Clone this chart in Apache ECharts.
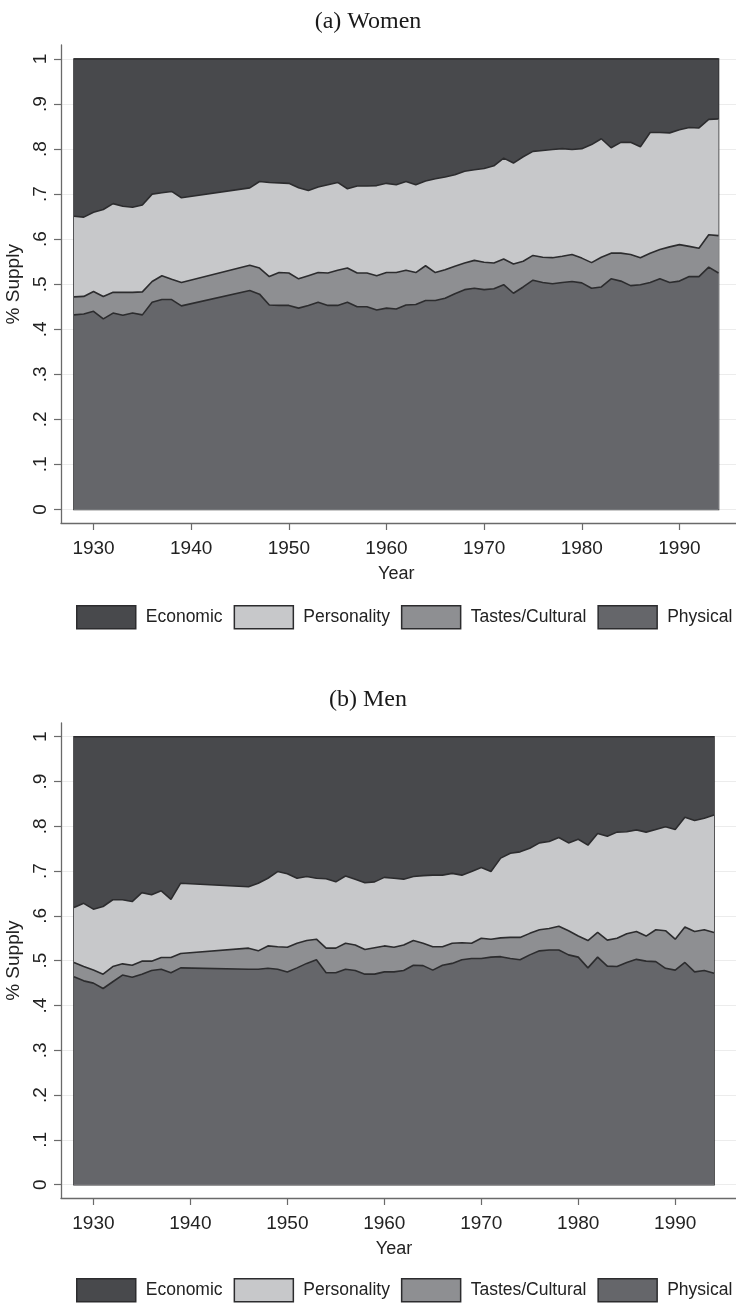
<!DOCTYPE html>
<html><head><meta charset="utf-8">
<script src="https://cdn.jsdelivr.net/npm/echarts@6/dist/echarts.min.js"></script>
<style>html,body{margin:0;padding:0;background:#fff}#c{width:736px;height:1305px}</style>
</head><body><div id="c"></div>
<script>
// ---------------- data (shares) ----------------
const years = [1928,1929,1930,1931,1932,1933,1934,1935,1936,1937,1938,1939,
  1946,1947,1948,1949,1950,1951,1952,1953,1954,1955,1956,1957,1958,1959,1960,1961,
  1962,1963,1964,1965,1966,1967,1968,1969,1970,1971,1972,1973,1974,1975,1976,1977,
  1978,1979,1980,1981,1982,1983,1984,1985,1986,1987,1988,1989,1990,1991,1992,1993,1994];

const womenPhysical = [.432,.434,.440,.423,.436,.431,.436,.432,.460,.466,.466,.452,
  .486,.478,.454,.453,.453,.447,.453,.460,.453,.453,.460,.450,.450,.443,.447,.445,
  .454,.455,.464,.464,.469,.479,.488,.491,.488,.490,.499,.480,.494,.509,.504,.501,
  .504,.506,.503,.491,.494,.512,.507,.497,.499,.504,.512,.504,.507,.517,.517,.538,.525];
const womenTastes = [.040,.039,.044,.050,.046,.051,.046,.051,.046,.053,.045,.052,
  .056,.058,.063,.073,.072,.065,.066,.066,.072,.078,.076,.075,.075,.076,.079,.081,
  .077,.071,.077,.062,.063,.061,.059,.062,.061,.057,.057,.065,.057,.055,.056,.058,
  .058,.060,.055,.057,.066,.057,.062,.069,.060,.065,.065,.079,.081,.067,.063,.072,.083];
const womenPersonality = [.179,.176,.176,.193,.197,.191,.189,.193,.194,.184,.195,.188,
  .172,.192,.209,.199,.199,.202,.189,.190,.196,.195,.176,.193,.193,.200,.198,.195,
  .197,.195,.188,.208,.206,.203,.204,.201,.208,.216,.224,.224,.232,.231,.237,.240,
  .239,.233,.243,.262,.263,.234,.246,.249,.246,.268,.260,.253,.255,.264,.267,.256,.259];
const womenEconomic = [.349,.351,.340,.334,.321,.327,.329,.324,.300,.297,.294,.308,
  .286,.272,.274,.275,.276,.286,.292,.284,.279,.274,.288,.282,.282,.281,.276,.279,
  .272,.279,.271,.266,.262,.257,.249,.246,.243,.237,.220,.231,.217,.205,.203,.201,
  .199,.201,.199,.190,.177,.197,.185,.185,.195,.163,.163,.164,.157,.152,.153,.134,.133];

const menPhysical = [.464,.455,.450,.438,.453,.468,.463,.470,.478,.481,.473,.484,
  .481,.481,.483,.481,.475,.484,.494,.502,.473,.473,.481,.478,.470,.470,.475,.475,
  .478,.490,.489,.479,.490,.494,.502,.505,.505,.508,.509,.505,.502,.513,.522,.524,
  .524,.513,.508,.484,.508,.488,.487,.496,.503,.499,.498,.483,.479,.496,.475,.478,.472];
const menTastes = [.032,.032,.029,.032,.034,.025,.027,.029,.021,.026,.034,.032,
  .047,.041,.050,.050,.055,.055,.051,.046,.055,.055,.058,.057,.055,.059,.058,.055,
  .057,.055,.050,.052,.041,.045,.038,.034,.045,.040,.042,.047,.050,.048,.047,.048,
  .053,.054,.047,.061,.055,.058,.063,.064,.062,.056,.071,.084,.069,.079,.090,.091,.091];
const menPersonality = [.123,.141,.136,.151,.149,.143,.142,.153,.148,.149,.130,.157,
  .137,.151,.151,.168,.164,.145,.143,.136,.155,.148,.150,.147,.149,.147,.153,.154,
  .147,.143,.151,.160,.160,.156,.151,.160,.158,.151,.178,.188,.191,.190,.194,.194,
  .198,.196,.216,.213,.221,.232,.237,.228,.227,.232,.224,.232,.245,.245,.248,.249,.262];
const menEconomic = [.381,.372,.385,.379,.364,.364,.368,.348,.353,.344,.363,.327,
  .335,.327,.316,.301,.306,.316,.312,.316,.317,.324,.311,.318,.326,.324,.314,.316,
  .318,.312,.310,.309,.309,.305,.309,.301,.292,.301,.271,.260,.257,.249,.237,.234,
  .225,.237,.229,.242,.216,.222,.213,.212,.208,.213,.207,.201,.207,.180,.187,.182,.175];

const seriesNames = ['Economic', 'Personality', 'Tastes/Cultural', 'Physical'];
const panelTitles = ['(a) Women', '(b) Men'];
const xTickValues = [1930, 1940, 1950, 1960, 1970, 1980, 1990];
const yTickLabels = ['0', '.1', '.2', '.3', '.4', '.5', '.6', '.7', '.8', '.9', '1'];

// ---------------- styling ----------------
const fills = {'Economic':'#48494c','Personality':'#c7c8ca','Tastes/Cultural':'#8e8f92','Physical':'#65666a'};
const outline = '#2c2c2e';
const axisCol = '#6a6a6a';
const sans = "'Liberation Sans',Arial,Helvetica,sans-serif";
const serif = "'Liberation Serif','Times New Roman',serif";

const panels = [
  {comp:{'Economic':womenEconomic,'Personality':womenPersonality,'Tastes/Cultural':womenTastes,'Physical':womenPhysical},
   dataGrid:{left:74, top:59, width:644.5, height:450.5},
   lineGrid:{left:61, top:59, width:675, height:450.5},
   axisGrid:{left:61, top:45, width:690, height:478},
   xOff:13.5, titleTop:5, legendTop:605},
  {comp:{'Economic':menEconomic,'Personality':menPersonality,'Tastes/Cultural':menTastes,'Physical':menPhysical},
   dataGrid:{left:74, top:736.7, width:640, height:448},
   lineGrid:{left:61, top:736.7, width:675, height:448},
   axisGrid:{left:61, top:723, width:690, height:475},
   xOff:13.3, titleTop:683, legendTop:1278}
];

const grid = [], xAxis = [], yAxis = [], series = [], title = [], legend = [];
panels.forEach((p, pi) => {
  const g0 = pi * 3;
  [p.dataGrid, p.lineGrid, p.axisGrid].forEach(g => grid.push(Object.assign({outerBoundsMode:'none', containLabel:false}, g)));
  // data axes
  xAxis.push({gridIndex:g0, type:'value', min:years[0], max:years[years.length-1], offset:p.xOff,
    axisLine:{show:false, onZero:false},
    axisTick:{show:true, length:7, customValues:xTickValues, lineStyle:{color:axisCol, width:1.2}},
    axisLabel:{customValues:xTickValues, fontFamily:sans, fontSize:19, color:'#222', margin:16,
      formatter:(v) => String(v)},
    splitLine:{show:false},
    name:'Year', nameLocation:'middle', nameGap:42,
    nameTextStyle:{fontFamily:sans, fontSize:18, color:'#222'}});
  yAxis.push({gridIndex:g0, type:'value', min:0, max:1, interval:0.1, offset:13,
    axisLine:{show:false, onZero:false},
    axisTick:{show:true, length:7, lineStyle:{color:axisCol, width:1.2}},
    axisLabel:{rotate:90, fontFamily:sans, fontSize:19, color:'#222', margin:11,
      formatter:(v) => yTickLabels[Math.round(v * 10)]},
    splitLine:{show:false},
    name:'% Supply', nameLocation:'middle', nameGap:21, nameRotate:90,
    nameTextStyle:{fontFamily:sans, fontSize:19, color:'#222'}});
  // grid-line axes
  xAxis.push({gridIndex:g0+1, type:'value', min:0, max:1, show:false});
  yAxis.push({gridIndex:g0+1, type:'value', min:0, max:1, interval:0.1,
    axisLine:{show:false}, axisTick:{show:false}, axisLabel:{show:false},
    splitLine:{show:true, lineStyle:{color:'#ececec', width:1}}});
  // axis-line axes
  xAxis.push({gridIndex:g0+2, type:'value', min:0, max:1,
    axisLine:{show:true, onZero:false, lineStyle:{color:axisCol, width:1.3}},
    axisTick:{show:false}, axisLabel:{show:false}, splitLine:{show:false}});
  yAxis.push({gridIndex:g0+2, type:'value', min:0, max:1,
    axisLine:{show:true, onZero:false, lineStyle:{color:axisCol, width:1.3}},
    axisTick:{show:false}, axisLabel:{show:false}, splitLine:{show:false}});

  // cumulative values, bottom category first
  const order = ['Physical', 'Tastes/Cultural', 'Personality', 'Economic'];
  let run = years.map(() => 0);
  const cum = {};
  order.forEach(n => { run = run.map((v, i) => v + p.comp[n][i]); cum[n] = run.slice(); });

  seriesNames.forEach((n) => {
    const s = {name:n, type:'line', xAxisIndex:g0, yAxisIndex:g0,
      data: years.map((y, i) => [y, +cum[n][i].toFixed(4)]),
      symbol:'none', showSymbol:false, silent:true, animation:false, clip:false,
      color: fills[n],
      itemStyle:{color:fills[n], borderColor:outline, borderWidth:1.5},
      lineStyle:{color:outline, width:1.6},
      areaStyle:{color:fills[n], opacity:1, origin:'start'}};
    if (n === 'Physical') {
      s.markArea = {silent:true, itemStyle:{color:'rgba(0,0,0,0)', borderColor:outline, borderWidth:1.6},
        data:[[{coord:[years[0], 0]}, {coord:[years[years.length-1], 1]}]]};
    }
    series.push(s);
  });

  title.push({text:panelTitles[pi], left:'center', top:p.titleTop,
    textStyle:{fontFamily:serif, fontSize:24, fontWeight:'normal', color:'#1a1a1a'}});
  legend.push({data:seriesNames, left:76, top:p.legendTop, width:660, padding:0,
    icon:'rect', itemWidth:59, itemHeight:23, itemGap:11, selectedMode:false,
    itemStyle:{borderColor:outline, borderWidth:1.5},
    textStyle:{fontFamily:sans, fontSize:17.5, color:'#222', padding:[0,0,0,5]}});
});

const chart = echarts.init(document.getElementById('c'), null, {renderer:'canvas'});
chart.setOption({backgroundColor:'#fff', animation:false, title, legend, grid, xAxis, yAxis, series});
</script>
</body></html>
